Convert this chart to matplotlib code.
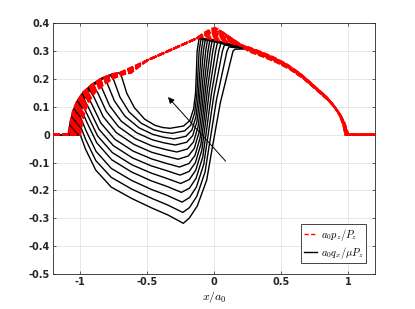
import matplotlib
matplotlib.use("Agg")
import matplotlib.pyplot as plt
from matplotlib.lines import Line2D

plt.rcParams['mathtext.fontset'] = 'cm'

# ---- values ----
# left edge of the contact for each load step (13 curves, top to bottom)
left_edge = [-1.090, -1.083, -1.075, -1.068, -1.060, -1.053, -1.045,
             -1.038, -1.030, -1.023, -1.015, -1.008, -1.000]

# shape of the left pressure arc, measured from the left edge
arc_dx = [0.0, 0.015, 0.035, 0.065, 0.11, 0.175, 0.25, 0.33, 0.38]
arc_y = [0.0, 0.045, 0.085, 0.12, 0.152, 0.18, 0.203, 0.218, 0.222]

# where each shear curve leaves the arc (offset from left edge)
dep_dx = [0.38, 0.31, 0.25, 0.20, 0.16, 0.125, 0.095, 0.07, 0.05, 0.035, 0.02, 0.01, 0.0]

# pressure: common straight part, rise point and local peak of each curve
main_x, main_y = -0.5, 0.267
rise_x = [-0.16, -0.145, -0.13, -0.115, -0.10, -0.085, -0.07, -0.055, -0.05, -0.045, -0.04, -0.035, -0.03]
rise_y = [0.34, 0.343, 0.346, 0.349, 0.353, 0.356, 0.359, 0.362, 0.363, 0.364, 0.365, 0.366, 0.367]
peak_x = [-0.113, -0.098, -0.082, -0.066, -0.049, -0.032, -0.015, 0.004, 0.025, 0.049, 0.076, 0.11, 0.155]
peak_y = [0.352, 0.358, 0.364, 0.369, 0.374, 0.378, 0.382, 0.385, 0.380, 0.372, 0.362, 0.348, 0.33]

# right branch (shear follows it) and the small spread of the pressure steps
rb_x = [0.25, 0.35, 0.45, 0.55, 0.65, 0.72, 0.78, 0.84, 0.89, 0.93, 0.955, 0.972, 0.983, 0.99, 1.2]
rb_y = [0.308, 0.29, 0.27, 0.245, 0.212, 0.183, 0.157, 0.132, 0.105, 0.078, 0.055, 0.033, 0.015, 0.0, 0.0]
rb_dx = [-0.015, -0.0125, -0.01, -0.0075, -0.005, -0.0025, 0.0, 0.0025, 0.005, 0.0075, 0.01, 0.0125, 0.015]
rb_dy = [0.01, 0.0083, 0.0067, 0.005, 0.0033, 0.0017, 0.0, -0.0017, -0.0033, -0.005, -0.0067, -0.0083, -0.01]

# shear curves from departure point through the dip to the top
bx = [
    [-0.71, -0.691, -0.653, -0.596, -0.52, -0.444, -0.387, -0.33, -0.229, -0.1825, -0.1543, -0.140, -0.1337, -0.128, -0.113],
    [-0.773, -0.750, -0.704, -0.636, -0.544, -0.452, -0.384, -0.315, -0.2204, -0.1751, -0.146, -0.131, -0.1225, -0.113, -0.098],
    [-0.825, -0.799, -0.746, -0.6675, -0.5625, -0.4575, -0.379, -0.30, -0.2114, -0.167, -0.1369, -0.121, -0.1104, -0.097, -0.082],
    [-0.868, -0.839, -0.781, -0.695, -0.579, -0.4635, -0.377, -0.29, -0.2054, -0.1609, -0.1291, -0.1118, -0.0987, -0.081, -0.066],
    [-0.90, -0.869, -0.807, -0.714, -0.59, -0.466, -0.373, -0.28, -0.1994, -0.1547, -0.1209, -0.1022, -0.0864, -0.064, -0.049],
    [-0.928, -0.895, -0.829, -0.731, -0.599, -0.467, -0.369, -0.27, -0.1938, -0.149, -0.1132, -0.0929, -0.0743, -0.047, -0.032],
    [-0.95, -0.9155, -0.8465, -0.743, -0.605, -0.467, -0.3635, -0.26, -0.1887, -0.1438, -0.1059, -0.084, -0.0625, -0.03, -0.015],
    [-0.968, -0.932, -0.861, -0.754, -0.6115, -0.469, -0.362, -0.255, -0.1871, -0.1409, -0.0996, -0.0755, -0.0501, -0.011, 0.004],
    [-0.98, -0.9435, -0.8705, -0.761, -0.615, -0.469, -0.3595, -0.25, -0.1859, -0.1382, -0.0931, -0.0663, -0.0366, 0.01, 0.025],
    [-0.988, -0.951, -0.877, -0.765, -0.6165, -0.468, -0.356, -0.245, -0.185, -0.1355, -0.086, -0.056, -0.0213, 0.034, 0.049],
    [-0.995, -0.957, -0.882, -0.7685, -0.6175, -0.4665, -0.353, -0.24, -0.1848, -0.1331, -0.0785, -0.0449, -0.0043, 0.061, 0.076],
    [-0.998, -0.960, -0.884, -0.769, -0.6165, -0.464, -0.349, -0.235, -0.1849, -0.1302, -0.0689, -0.0307, 0.0171, 0.095, 0.11],
    [-1.0, -0.9615, -0.8847, -0.769, -0.6155, -0.4617, -0.3463, -0.231, -0.1865, -0.1271, -0.0566, -0.0121, 0.0454, 0.14, 0.155],
]
by = [
    [0.222, 0.208, 0.149, 0.097, 0.056, 0.034, 0.026, 0.023, 0.0313, 0.0507, 0.0923, 0.1477, 0.2169, 0.30, 0.345],
    [0.212, 0.196, 0.135, 0.082, 0.041, 0.018, 0.0095, 0.005, 0.0139, 0.0345, 0.0788, 0.1378, 0.2115, 0.30, 0.346],
    [0.203, 0.1845, 0.122, 0.067, 0.025, 0.001, -0.009, -0.015, -0.0056, 0.0165, 0.0638, 0.1268, 0.2055, 0.30, 0.346],
    [0.189, 0.168, 0.104, 0.049, 0.007, -0.018, -0.029, -0.037, -0.0269, -0.0033, 0.0473, 0.1147, 0.1989, 0.30, 0.345],
    [0.174, 0.150, 0.085, 0.0285, -0.014, -0.040, -0.052, -0.062, -0.0511, -0.0258, 0.0285, 0.1009, 0.1914, 0.30, 0.344],
    [0.159, 0.132, 0.065, 0.0075, -0.035, -0.063, -0.076, -0.088, -0.0764, -0.0492, 0.009, 0.0866, 0.1836, 0.30, 0.342],
    [0.141, 0.111, 0.042, -0.016, -0.059, -0.087, -0.102, -0.116, -0.1035, -0.0744, -0.012, 0.0712, 0.1752, 0.30, 0.34],
    [0.124, 0.091, 0.020, -0.039, -0.083, -0.112, -0.128, -0.145, -0.1317, -0.1005, -0.0338, 0.0553, 0.1665, 0.30, 0.337],
    [0.104, 0.068, -0.0045, -0.064, -0.108, -0.138, -0.156, -0.175, -0.1608, -0.1275, -0.0563, 0.0388, 0.1575, 0.30, 0.333],
    [0.085, 0.045, -0.029, -0.090, -0.134, -0.166, -0.185, -0.207, -0.1918, -0.1563, -0.0803, 0.0212, 0.1479, 0.30, 0.328],
    [0.058, 0.0145, -0.060, -0.121, -0.164, -0.197, -0.2175, -0.242, -0.2257, -0.1878, -0.1065, 0.0019, 0.1374, 0.30, 0.322],
    [0.03, -0.017, -0.093, -0.153, -0.195, -0.229, -0.252, -0.279, -0.2616, -0.2211, -0.1343, -0.0185, 0.1263, 0.30, 0.315],
    [0.0, -0.051, -0.127, -0.188, -0.229, -0.264, -0.288, -0.318, -0.2995, -0.2562, -0.1635, -0.0399, 0.1146, 0.30, 0.307],
]

arrow_tail = (0.085, -0.095)
arrow_head = (-0.345, 0.135)

xticks = [-1, -0.5, 0, 0.5, 1]
xticklabels = ['-1', '-0.5', '0', '0.5', '1']
yticks = [0.4, 0.3, 0.2, 0.1, 0, -0.1, -0.2, -0.3, -0.4, -0.5]
yticklabels = ['0.4', '0.3', '0.2', '0.1', '0', '-0.1', '-0.2', '-0.3', '-0.4', '-0.5']

red_dash = (0, (3.2, 1.2))

# ---- figure ----
fig = plt.figure(figsize=(4.15, 3.09), dpi=100)
ax = fig.add_axes([0.1289, 0.1133, 0.7747, 0.8113])

for k in range(len(left_edge)):
    L = left_edge[k]
    arc_px = [L + d for d in arc_dx]
    # right branch of this pressure step
    rx = [x + rb_dx[k] for x in rb_x[:-1]] + [rb_x[-1]]
    ry = [y + rb_dy[k] if y > 0 else y for y in rb_y]

    # shear traction: zero, then along the arc, then its own dip
    qx = [-1.2, L] + [L + d for d in arc_dx if 0 < d < dep_dx[k]] + bx[k] + rb_x
    qy = [0.0, 0.0] + [y for d, y in zip(arc_dx, arc_y) if 0 < d < dep_dx[k]] + by[k] + rb_y
    ax.plot(qx, qy, color='k', lw=1.0, zorder=2)

    # pressure
    px = [-1.2] + arc_px + [main_x, rise_x[k], peak_x[k]] + rx
    py = [0.0] + arc_y + [main_y, rise_y[k], peak_y[k]] + ry
    ax.plot(px, py, color='r', lw=1.4, ls=red_dash, zorder=3)

ax.annotate('', xy=arrow_head, xytext=arrow_tail,
            arrowprops=dict(arrowstyle='-|>', lw=0.7, color='k', mutation_scale=9,
                            shrinkA=0, shrinkB=0), zorder=4)

ax.set_xlim(-1.2, 1.2)
ax.set_ylim(-0.5, 0.4)
ax.set_xticks(xticks)
ax.set_xticklabels(xticklabels)
ax.set_yticks(yticks)
ax.set_yticklabels(yticklabels)
for lab in ax.get_xticklabels() + ax.get_yticklabels():
    lab.set_fontweight('bold')
    lab.set_fontsize(7)
ax.tick_params(direction='in', length=2.5, width=0.5, top=True, right=True,
               pad=2.5, colors='#262626')
ax.grid(True, color='#dedede', lw=0.5)
ax.set_axisbelow(True)
for s in ax.spines.values():
    s.set_color('#262626')
    s.set_linewidth(0.6)

ax.set_xlabel('$x/a_0$', fontsize=8.5, labelpad=1)

handles = [Line2D([], [], color='r', lw=1.0, ls=(0, (3.0, 1.8))),
           Line2D([], [], color='k', lw=1.0)]
leg = ax.legend(handles, ['$a_0p_z/P_z$', '$a_0q_x/\\mu P_z$'], loc='lower right',
                bbox_to_anchor=(0.972, 0.043), borderaxespad=0, fontsize=7.5,
                fancybox=False, framealpha=1, edgecolor='#262626',
                handlelength=1.3, handletextpad=0.3, labelspacing=0.15, borderpad=0.25)
leg.get_frame().set_linewidth(0.6)

fig.savefig('out.png', dpi=100)
